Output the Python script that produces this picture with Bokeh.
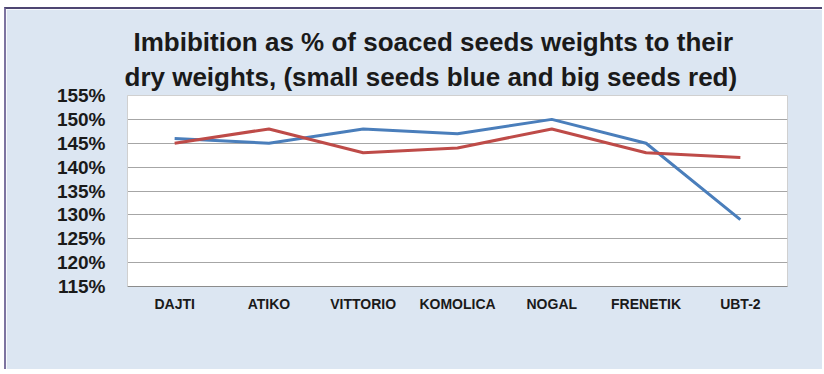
from bokeh.plotting import figure
from bokeh.models import FactorRange, Range1d, FixedTicker, PrintfTickFormatter, Title
from bokeh.embed import file_html
from bokeh.resources import INLINE

categories = ["DAJTI", "ATIKO", "VITTORIO", "KOMOLICA", "NOGAL", "FRENETIK", "UBT-2"]
small_seeds = [146, 145, 148, 147, 150, 145, 129]   # blue
big_seeds = [145, 148, 143, 144, 148, 143, 142]     # red
y_ticks = [115, 120, 125, 130, 135, 140, 145, 150, 155]
title_lines = ["Imbibition as % of soaced seeds weights to their",
               "dry weights, (small seeds blue and big seeds red)"]

FONT = "Liberation Sans, Arial, sans-serif"
PANEL = "#dce6f2"

p = figure(width=818, height=362, x_range=FactorRange(*categories, range_padding=0),
           y_range=Range1d(115, 155), output_backend="svg", toolbar_location=None,
           title=None, min_border_left=121, min_border_right=37,
           min_border_top=86, min_border_bottom=85)
p.styles = {"margin-left": "4px", "margin-top": "7px",
            "border-top": "2px solid #4e4672", "border-left": "2px solid #7d74a0"}
p.border_fill_color = PANEL
p.background_fill_color = "white"
p.outline_line_color = "#d0d0d0"

p.line(categories, small_seeds, line_color="#4a7ebb", line_width=3)
p.line(categories, big_seeds, line_color="#be4b48", line_width=3)

offsets = [-3, 6]
for i, txt in enumerate(reversed(title_lines)):
    t = Title(text=txt, align="left", offset=offsets[i], text_font=FONT,
              text_font_size="26px", text_font_style="bold", text_color="#1a1a1a",
              standoff=7 if i == 0 else 0)
    p.add_layout(t, "above")

p.xgrid.grid_line_color = None
p.ygrid.grid_line_color = "#a6a6a6"
p.ygrid.grid_line_width = 1

p.yaxis.ticker = FixedTicker(ticks=y_ticks)
p.yaxis.formatter = PrintfTickFormatter(format="%d%%")
p.yaxis.major_label_text_font = FONT
p.yaxis.major_label_text_font_size = "19px"
p.yaxis.major_label_text_font_style = "bold"
p.yaxis.major_label_text_color = "#1a1a1a"
p.yaxis.axis_line_color = "#d0d0d0"
p.yaxis.major_tick_line_color = None
p.yaxis.minor_tick_line_color = None
p.yaxis.major_label_standoff = 16

p.xaxis.major_label_text_font = FONT
p.xaxis.major_label_text_font_size = "14px"
p.xaxis.major_label_text_font_style = "bold"
p.xaxis.major_label_text_color = "#1a1a1a"
p.xaxis.axis_line_color = "#8c8c8c"
p.xaxis.major_tick_line_color = None
p.xaxis.minor_tick_line_color = None
p.xaxis.major_label_standoff = 3

open("out.html", "w").write(file_html(p, INLINE))
